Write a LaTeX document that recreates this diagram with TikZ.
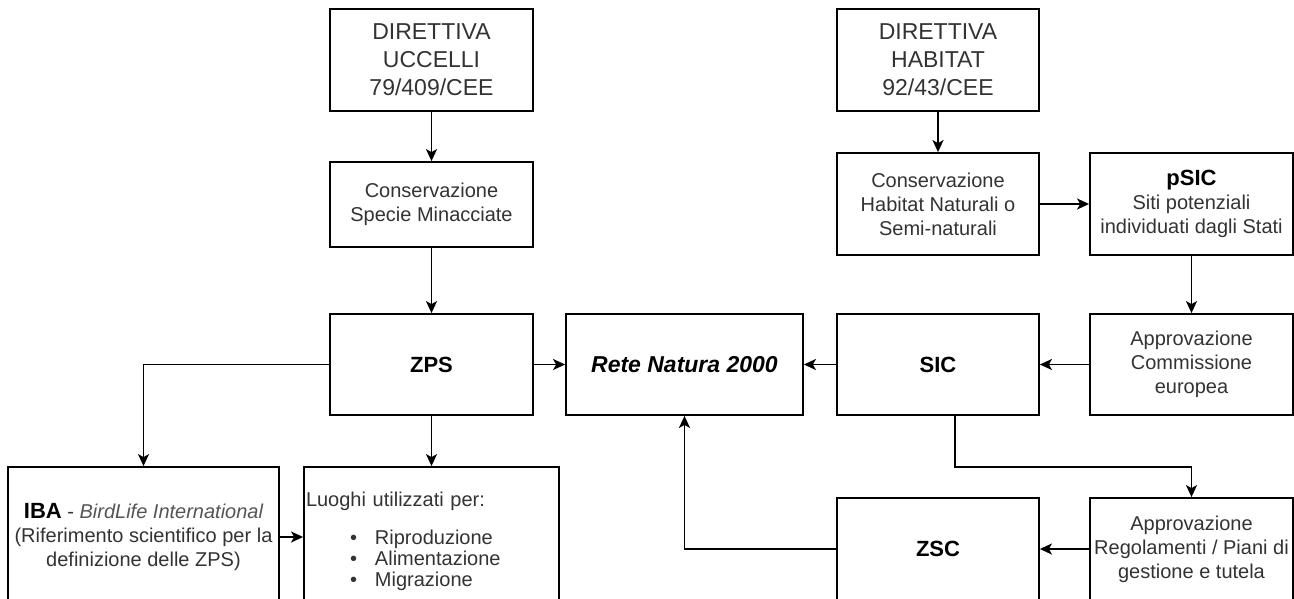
\documentclass[tikz,border=0pt]{standalone}
\usepackage{fontspec}
\setmainfont{Liberation Sans}
\usetikzlibrary{arrows.meta}
\definecolor{txtgray}{RGB}{51,51,51}
\definecolor{lightgray}{RGB}{85,85,85}
\tikzset{
  box/.style={draw=black, line width=1.8pt, inner sep=0pt, align=center, text=txtgray,
    font=\fontsize{20}{24}\selectfont},
  bigtxt/.style={font=\fontsize{23}{28}\selectfont},
  arr/.style={line width=1.8pt, -{Stealth[length=12pt,width=11pt,inset=3pt]}},
}
\newcommand{\bfbig}[1]{{\fontsize{22}{26}\selectfont\bfseries\color{black}#1}}
\newcommand{\bulletitem}[1]{\makebox[69pt][l]{\hspace{44pt}\textbullet}#1}
\begin{document}
\begin{tikzpicture}[x=1pt,y=-1pt]
\useasboundingbox (0,0) rectangle (1294,598);
\clip (0,0) rectangle (1294,598);
\fill[white] (0,0) rectangle (1294,598);

\node[box,bigtxt,minimum width=203pt,minimum height=102pt] (du) at (431.5,60) {DIRETTIVA\\UCCELLI\\79/409/CEE};
\node[box,minimum width=203pt,minimum height=85pt] (csm) at (431.5,204.5) {Conservazione\\Specie Minacciate};
\node[box,bigtxt,minimum width=202pt,minimum height=102pt] (dh) at (938,60) {DIRETTIVA\\HABITAT\\92/43/CEE};
\node[box,minimum width=202pt,minimum height=102pt] (chn) at (938,204) {Conservazione\\Habitat Naturali o\\Semi-naturali};
\node[box,minimum width=203pt,minimum height=102pt] (psic) at (1191.5,204) {\bfbig{pSIC}\\Siti potenziali\\individuati dagli Stati};
\node[box,minimum width=203pt,minimum height=101pt] (zps) at (431.5,364.5) {\bfbig{ZPS}};
\node[box,minimum width=237pt,minimum height=101pt] (rete) at (684.5,364.5) {{\fontsize{23}{28}\selectfont\bfseries\itshape\color{black}Rete Natura 2000}};
\node[box,minimum width=202pt,minimum height=101pt] (sic) at (938,364.5) {\bfbig{SIC}};
\node[box,minimum width=203pt,minimum height=101pt] (acomm) at (1191.5,364.5) {Approvazione\\Commissione\\europea};
\node[box,minimum width=271pt,minimum height=140pt] (iba) at (143.5,537) {\bfbig{IBA} - {\color{lightgray}\itshape BirdLife International}\\(Riferimento scientifico per la\\definizione delle ZPS)};
\node[box,minimum width=255pt,minimum height=140pt,text width=251pt,inner xsep=2pt,align=left,font=\fontsize{20}{21}\selectfont] (luoghi) at (431.5,537) {\rule{0pt}{23pt}Luoghi utilizzati per:\\[17pt]
\bulletitem{Riproduzione}\\
\bulletitem{Alimentazione}\\
\bulletitem{Migrazione}};
\node[box,minimum width=202pt,minimum height=102pt] (zsc) at (938,549) {\bfbig{ZSC}};
\node[box,minimum width=203pt,minimum height=102pt] (areg) at (1191.5,549) {Approvazione\\Regolamenti / Piani di\\gestione e tutela};

\draw[arr] (du) -- (csm);
\draw[arr] (csm) -- (zps);
\draw[arr] (dh) -- (chn);
\draw[arr] (chn) -- (psic);
\draw[arr] (psic) -- (acomm);
\draw[arr] (acomm) -- (sic);
\draw[arr] (sic) -- (rete);
\draw[arr] (zps) -- (rete);
\draw[arr] (zps.west) -| (iba.north);
\draw[arr] (zps) -- (luoghi);
\draw[arr] (iba) -- (luoghi);
\draw[arr] ([xshift=17pt]sic.south) -- ++(0,51) -| (areg.north);
\draw[arr] (areg) -- (zsc);
\draw[arr] (zsc.west) -| (rete.south);
\end{tikzpicture}
\end{document}
